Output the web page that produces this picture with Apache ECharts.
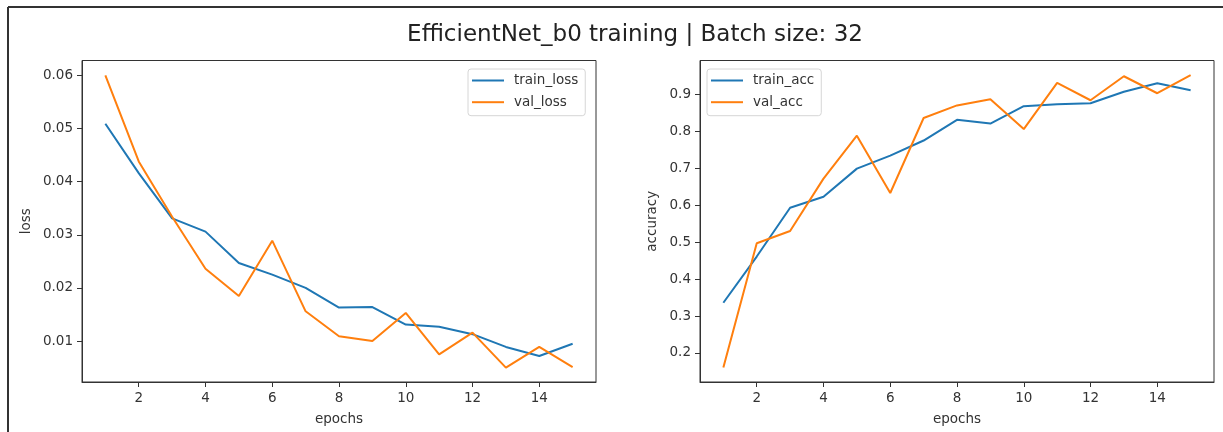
<!DOCTYPE html>
<html>
<head>
<meta charset="utf-8">
<script src="https://cdn.jsdelivr.net/npm/echarts@6/dist/echarts.min.js"></script>
<style>
html,body{margin:0;padding:0;background:#fff;}
#c{width:1223px;height:432px;}
</style>
</head>
<body>
<div id="c"></div>
<script>
const epochs = [1,2,3,4,5,6,7,8,9,10,11,12,13,14,15];
const trainLoss = [0.0509,0.0416,0.0331,0.0306,0.0247,0.0225,0.0200,0.0163,0.0164,0.0131,0.0127,0.0113,0.0089,0.0072,0.0095];
const valLoss   = [0.0600,0.0438,0.0334,0.0236,0.0185,0.0289,0.0156,0.0109,0.0100,0.0153,0.0075,0.0116,0.0050,0.0089,0.0051];
const trainAcc  = [0.336,0.461,0.593,0.623,0.699,0.734,0.775,0.831,0.821,0.868,0.873,0.876,0.907,0.930,0.911];
const valAcc    = [0.161,0.497,0.530,0.672,0.788,0.633,0.836,0.870,0.887,0.806,0.931,0.884,0.949,0.903,0.952];
const xTicks = [2,4,6,8,10,12,14];
const lossTicks = [0.01,0.02,0.03,0.04,0.05,0.06];
const accTicks = [0.2,0.3,0.4,0.5,0.6,0.7,0.8,0.9];

const FONT = 'DejaVu Sans';
const BLUE = '#1f77b4', ORANGE = '#ff7f0e', AX = '#333';
const pair = (xs, ys) => xs.map((x, i) => [x, ys[i]]);

function xAxis(gi) {
  return {
    type: 'value', gridIndex: gi, min: 0.3, max: 15.7,
    name: 'epochs', nameLocation: 'middle', nameGap: 30,
    nameTextStyle: {fontFamily: FONT, fontSize: 13.5, color: AX},
    axisLine: {show: true, lineStyle: {color: AX, width: 1}},
    axisTick: {show: true, length: 5, inside: false, customValues: xTicks, lineStyle: {color: AX}},
    axisLabel: {customValues: xTicks, margin: 9, fontFamily: FONT, fontSize: 13.5, color: AX},
    splitLine: {show: false}
  };
}
function yAxis(gi, name, min, max, ticks, gap) {
  return {
    type: 'value', gridIndex: gi, min: min, max: max,
    name: name, nameLocation: 'middle', nameGap: gap,
    nameTextStyle: {fontFamily: FONT, fontSize: 13.5, color: AX},
    axisLine: {show: true, lineStyle: {color: AX, width: 1}},
    axisTick: {show: true, length: 5, inside: false, customValues: ticks, lineStyle: {color: AX}},
    axisLabel: {customValues: ticks, margin: 9, fontFamily: FONT, fontSize: 13.5, color: AX,
      formatter: v => String(Math.round(v * 100) / 100)},
    splitLine: {show: false}
  };
}
function legend(left, names) {
  return {
    left: left, top: 69, orient: 'vertical', data: names,
    icon: 'rect', itemWidth: 32, itemHeight: 2, itemGap: 6.7,
    padding: [4, 7, 6, 4],
    backgroundColor: '#fff', borderColor: '#d6d6d6', borderWidth: 1, borderRadius: 3,
    textStyle: {fontFamily: FONT, fontSize: 13.5, color: AX, lineHeight: 15, padding: [0, 0, 0, 5]}
  };
}
function line(name, xi, data, color) {
  return {
    name: name, type: 'line', xAxisIndex: xi, yAxisIndex: xi, data: data,
    showSymbol: false, symbol: 'none', lineStyle: {color: color, width: 2}, itemStyle: {color: color}
  };
}

const chart = echarts.init(document.getElementById('c'), null, {renderer: 'canvas'});
chart.setOption({
  animation: false,
  backgroundColor: '#fff',
  title: {
    text: 'EfficientNet_b0 training | Batch size: 32',
    left: 630, textAlign: 'center', top: 17,
    textStyle: {fontFamily: FONT, fontSize: 23, fontWeight: 'normal', color: '#222', lineHeight: 26}
  },
  grid: [
    {left: 82, top: 60.5, width: 514, height: 321.5, show: true, borderColor: AX, borderWidth: 1, outerBoundsMode: 'none'},
    {left: 700, top: 60.5, width: 514, height: 321.5, show: true, borderColor: AX, borderWidth: 1, outerBoundsMode: 'none'}
  ],
  xAxis: [xAxis(0), xAxis(1)],
  yAxis: [
    yAxis(0, 'loss', 0.0023, 0.0628, lossTicks, 49),
    yAxis(1, 'accuracy', 0.1215, 0.9916, accTicks, 41)
  ],
  legend: [legend(468, ['train_loss', 'val_loss']), legend(707, ['train_acc', 'val_acc'])],
  series: [
    line('train_loss', 0, pair(epochs, trainLoss), BLUE),
    line('val_loss', 0, pair(epochs, valLoss), ORANGE),
    line('train_acc', 1, pair(epochs, trainAcc), BLUE),
    line('val_acc', 1, pair(epochs, valAcc), ORANGE)
  ],
  graphic: [
    {type: 'line', shape: {x1: 8, y1: 7, x2: 1223, y2: 7}, style: {stroke: '#333', lineWidth: 2}},
    {type: 'line', shape: {x1: 8, y1: 7, x2: 8, y2: 432}, style: {stroke: '#333', lineWidth: 2}}
  ]
});
</script>
</body>
</html>
